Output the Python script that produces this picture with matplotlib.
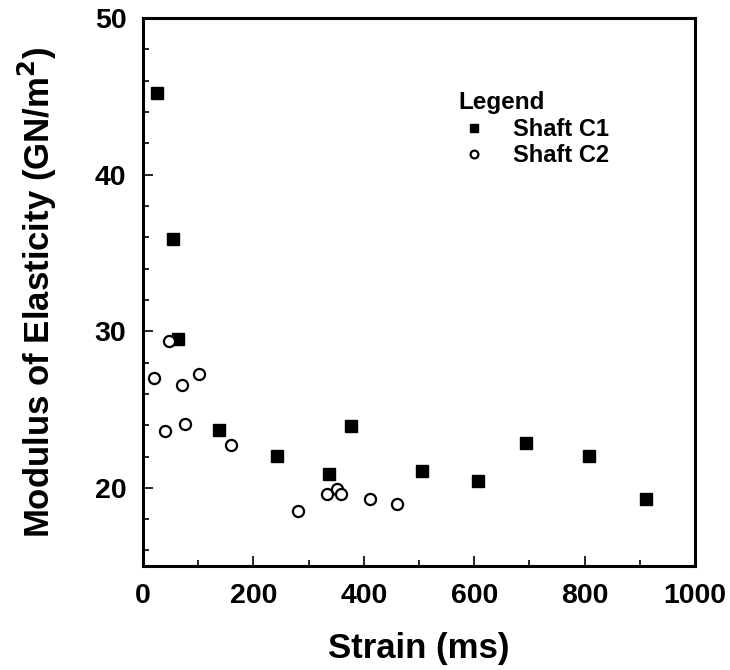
import matplotlib
matplotlib.use("Agg")
import matplotlib.pyplot as plt
from matplotlib.ticker import MultipleLocator

# Data
c1_strain = [26, 54, 64, 138, 243, 337, 376, 505, 607, 694, 808, 912]
c1_modulus = [45.2, 35.9, 29.5, 23.7, 22.05, 20.9, 23.95, 21.1, 20.45, 22.85, 22.05, 19.3]

c2_strain = [19, 47, 70, 101, 40, 76, 159, 281, 334, 352, 359, 411, 461]
c2_modulus = [27.0, 29.4, 26.55, 27.25, 23.65, 24.1, 22.75, 18.55, 19.6, 19.95, 19.6, 19.3, 18.95]

x_ticks = [0, 200, 400, 600, 800, 1000]
y_ticks = [20, 30, 40, 50]

plt.rcParams['font.family'] = ['Liberation Sans', 'DejaVu Sans']
plt.rcParams['font.weight'] = 'bold'

fig = plt.figure(figsize=(7.3, 6.7), dpi=100)
ax = fig.add_axes([0.196, 0.155, 0.756, 0.818])

ax.plot(c1_strain, c1_modulus, linestyle='none', marker='s', markersize=8,
        color='black', label='Shaft C1')
ax.plot(c2_strain, c2_modulus, linestyle='none', marker='o', markersize=8,
        markerfacecolor='white', markeredgecolor='black', markeredgewidth=1.6,
        label='Shaft C2')

ax.set_xlim(0, 1000)
ax.set_ylim(15, 50)
ax.set_xticks(x_ticks)
ax.set_yticks(y_ticks)
ax.xaxis.set_minor_locator(MultipleLocator(100))
ax.yaxis.set_minor_locator(MultipleLocator(2))
ax.tick_params(which='both', direction='in', width=1.2)
ax.tick_params(which='major', length=7, labelsize=20.5, pad=12)
ax.tick_params(which='minor', length=4)
for lab in ax.get_xticklabels() + ax.get_yticklabels():
    lab.set_fontweight('bold')
for s in ax.spines.values():
    s.set_linewidth(2.2)

ax.set_xlabel('Strain (ms)', fontsize=25, fontweight='bold', labelpad=17)
ax.set_ylabel('Modulus of Elasticity (GN/m$^\\mathbf{2}$)', fontsize=25,
              fontweight='bold', labelpad=26)

leg = ax.legend(loc='upper left', bbox_to_anchor=(0.533, 0.905), frameon=False,
                title='Legend', fontsize=17, title_fontsize=17.5, markerscale=0.7,
                handlelength=1.3, handletextpad=1.0, labelspacing=0.15)
leg.get_title().set_fontweight('bold')
leg._legend_box.align = 'left'
for t in leg.get_texts():
    t.set_fontweight('bold')

fig.savefig('out.png', dpi=100)
